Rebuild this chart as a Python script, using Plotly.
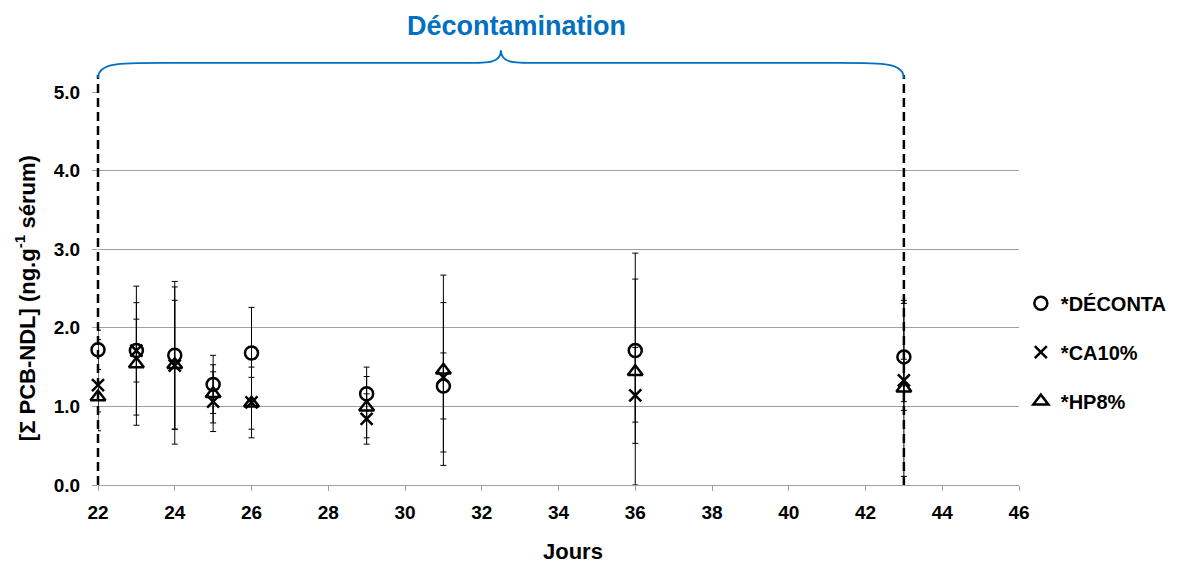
import numpy as np
import plotly.graph_objects as go

# jours de prélèvement
jours = [22, 23, 24, 25, 26, 29, 31, 36, 43]

# moyennes et écarts-types
deconta = [1.72, 1.71, 1.65, 1.28, 1.68, 1.16, 1.26, 1.71, 1.63]
deconta_sd = [0.25, 0.82, 0.94, 0.37, 0.58, 0.34, 0.42, 0.91, 0.68]

ca10 = [1.27, 1.71, 1.52, 1.06, 1.05, 0.84, 1.37, 1.14, 1.33]
ca10_sd = [0.58, 0.40, 1.00, 0.38, 0.45, 0.32, 0.95, 0.61, 0.27]

hp8 = [1.12, 1.54, 1.53, 1.16, 1.04, 0.99, 1.46, 1.44, 1.23]
hp8_sd = [0.19, 0.78, 0.82, 0.37, 0.33, 0.39, 1.21, 1.51, 1.12]

series = [
    ('*DÉCONTA', deconta, deconta_sd, 'circle-open', 13),
    ('*CA10%', ca10, ca10_sd, 'x-thin-open', 12),
    ('*HP8%', hp8, hp8_sd, 'triangle-up-open', 13),
]

x_min, x_max = 22, 46
y_min, y_max = 0, 5
debut, fin = 22, 43  # période de décontamination

famille = 'Liberation Sans, Arial, sans-serif'


def police(taille, couleur='black'):
    return dict(family=famille, size=taille, color=couleur, weight='bold')


fig = go.Figure()
for i, (nom, moy, sd, symbole, taille) in enumerate(series):
    moy = np.array(moy)
    sd = np.array(sd)
    fig.add_trace(go.Scatter(
        x=jours, y=moy, mode='markers', name=nom,
        legendgroup='g%d' % i,
        marker=dict(symbol=symbole, size=taille, color='black',
                    line=dict(color='black', width=2.5)),
        error_y=dict(type='data', array=sd, arrayminus=np.minimum(sd, moy),
                     color='black', thickness=1, width=3),
        cliponaxis=False,
    ))


def xp(v):
    return (v - x_min) / (x_max - x_min)


# lignes pointillées début / fin
for j in (debut, fin):
    fig.add_shape(type='line', xref='paper', yref='paper',
                  x0=xp(j), x1=xp(j), y0=0, y1=1.043,
                  line=dict(color='black', width=2.5, dash='9px,5px'))

# accolade
L, R = xp(debut), xp(fin)
M = (L + R) / 2
yb, ym, yt = 1.035, 1.074, 1.106
d1, d2 = 0.07, 0.04
path = (f'M{L},{yb} C{L},{ym} {L + d1 * 0.3},{ym} {L + d1},{ym} '
        f'L{M - d2},{ym} C{M - d2 * 0.3},{ym} {M},{ym} {M},{yt} '
        f'C{M},{ym} {M + d2 * 0.3},{ym} {M + d2},{ym} '
        f'L{R - d1},{ym} C{R - d1 * 0.3},{ym} {R},{ym} {R},{yb}')
fig.add_shape(type='path', xref='paper', yref='paper', path=path,
              line=dict(color='#0070C0', width=1.8))

fig.add_annotation(text='Décontamination', xref='paper', yref='paper',
                   x=xp(32.9), y=1.168, yanchor='middle', showarrow=False,
                   font=police(27, '#0070C0'))

# titres des axes
fig.add_annotation(text='Jours', xref='paper', yref='paper',
                   x=0.516, y=-0.17, yanchor='middle', showarrow=False,
                   font=police(22))
fig.add_annotation(text='[Σ PCB-NDL] (ng.g<sup>-1</sup> sérum)', xref='paper', yref='paper',
                   x=-0.079, y=0.476, xanchor='center', yanchor='middle',
                   textangle=-90, showarrow=False, font=police(22))

fig.update_layout(
    width=1169, height=556,
    margin=dict(l=90, r=158, t=84, b=79, autoexpand=False),
    plot_bgcolor='white', paper_bgcolor='white',
    showlegend=True,
    legend=dict(x=1.002, y=0.338, xanchor='left', yanchor='middle',
                font=police(20), tracegroupgap=20,
                itemwidth=30, bgcolor='rgba(0,0,0,0)'),
    xaxis=dict(range=[x_min, x_max], dtick=2, showgrid=False, zeroline=False,
               showline=True, linecolor='#A0A0A0', linewidth=1,
               ticks='outside', ticklen=5, tickcolor='#A0A0A0',
               ticklabelstandoff=5, tickfont=police(19)),
    yaxis=dict(range=[y_min, y_max], dtick=1, tickformat='.1f',
               showgrid=True, gridcolor='#A0A0A0', gridwidth=1, zeroline=False,
               showline=False, ticks='outside', ticklen=5, tickcolor='#A0A0A0',
               ticklabelstandoff=8, tickfont=police(19)),
)

fig.write_html('out.html')
